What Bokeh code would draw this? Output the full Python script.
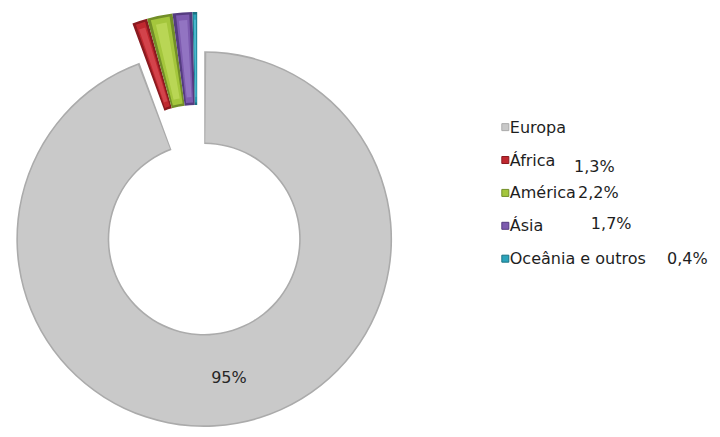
import numpy as np
from bokeh.plotting import figure
from bokeh.models import Range1d, ColumnDataSource
from bokeh.embed import file_html
from bokeh.resources import INLINE
from bokeh.core.properties import value

# ---- data ----
categories = ["Europa", "África", "América", "Ásia", "Oceânia e outros"]
shares = [94.4, 1.3, 2.2, 1.7, 0.4]
share_labels = ["95%", "1,3%", "2,2%", "1,7%", "0,4%"]

# ---- style ----
colors = ["#C9C9C9", "#C0282F", "#A4C63C", "#7D5BAF", "#2CA4BB"]
edge_colors = ["#ABABAB", "#8A1A20", "#728E28", "#553C80", "#1B7383"]
highlight = ["#D4D4D4", "#E25A62", "#CBE46A", "#A488D2", "#66CBDD"]
FONT = "DejaVu Sans"

# drawing space matches the 720x437 reference, shown in a 712x429 figure
VW, VH = 720, 437
W, H = 712, 429
cx, cy = 206, 194
r_out, r_in = 190, 96
explode = 40.6

p = figure(width=W, height=H, output_backend="svg", toolbar_location=None,
           x_range=Range1d(0, VW), y_range=Range1d(0, VH), min_border=0)
p.axis.visible = False
p.grid.visible = False
p.outline_line_color = None
p.background_fill_color = "white"
p.border_fill_color = "white"

frac = np.array(shares) / sum(shares)
ends = np.cumsum(frac) * 2 * np.pi
starts = ends - frac * 2 * np.pi
mid = (starts + ends) / 2
n = len(shares)
is_big = np.arange(n) == 0

grp_mid = (starts[1] + ends[-1]) / 2
ox, oy = explode * np.sin(grp_mid), explode * np.cos(grp_mid)
xs = np.array([cx] + [cx + ox] * (n - 1))
ys = np.array([cy] + [cy + oy] * (n - 1))

r_mid = (r_in + r_out) / 2
width = ends - starts
rim = np.where(is_big, 1.6, 2.5)
ang_in = np.minimum(rim / r_mid, 0.18 * width)

def wedge(st, en, ri, ro, fill, alpha):
    src = ColumnDataSource(dict(x=xs, y=ys, s=np.pi / 2 - en, e=np.pi / 2 - st,
                                ri=ri, ro=ro, c=fill, a=alpha))
    p.annular_wedge(x="x", y="y", inner_radius="ri", outer_radius="ro",
                    start_angle="s", end_angle="e", fill_color="c",
                    fill_alpha="a", line_color=None, source=src)

# base (dark rim)
wedge(starts, ends, np.full(n, r_in), np.full(n, r_out), edge_colors, np.ones(n))
# main fill
wedge(starts + ang_in, ends - ang_in, r_in + rim, r_out - rim, colors, np.ones(n))
# glossy stripe on the small slices
hw = 0.22 * width
wedge(mid - hw, mid + hw, np.full(n, r_in + 8.0), np.full(n, r_out - 8.0),
      highlight, np.where(is_big, 0.0, 0.55))

# 95% label inside the big slice
p.text(x=[cx + r_mid * np.sin(mid[0])], y=[cy + r_mid * np.cos(mid[0])],
       text=[share_labels[0]], text_font=value(FONT), text_font_size="16px",
       text_color="#262626", text_align="center", text_baseline="middle")

# legend
leg_x, txt_x = 510.5, 515
leg_y = 308 - 33.5 * np.arange(n)
p.scatter(x=[leg_x] * n, y=leg_y, marker="square", size=7,
          fill_color=colors, line_color=edge_colors, line_width=1)
p.text(x=[txt_x] * n, y=leg_y, text=categories, text_font=value(FONT),
       text_font_size="16px", text_color="#1E1E1E",
       text_align="left", text_baseline="middle")

# small-slice data labels placed beside the legend
pct_x = [580, 584, 597, 674]
pct_y = [268, 241, 210, 174]
p.text(x=pct_x, y=pct_y, text=share_labels[1:], text_font=value(FONT),
       text_font_size="16px", text_color="#1E1E1E",
       text_align="left", text_baseline="middle")

open("out.html", "w").write(file_html(p, INLINE))
